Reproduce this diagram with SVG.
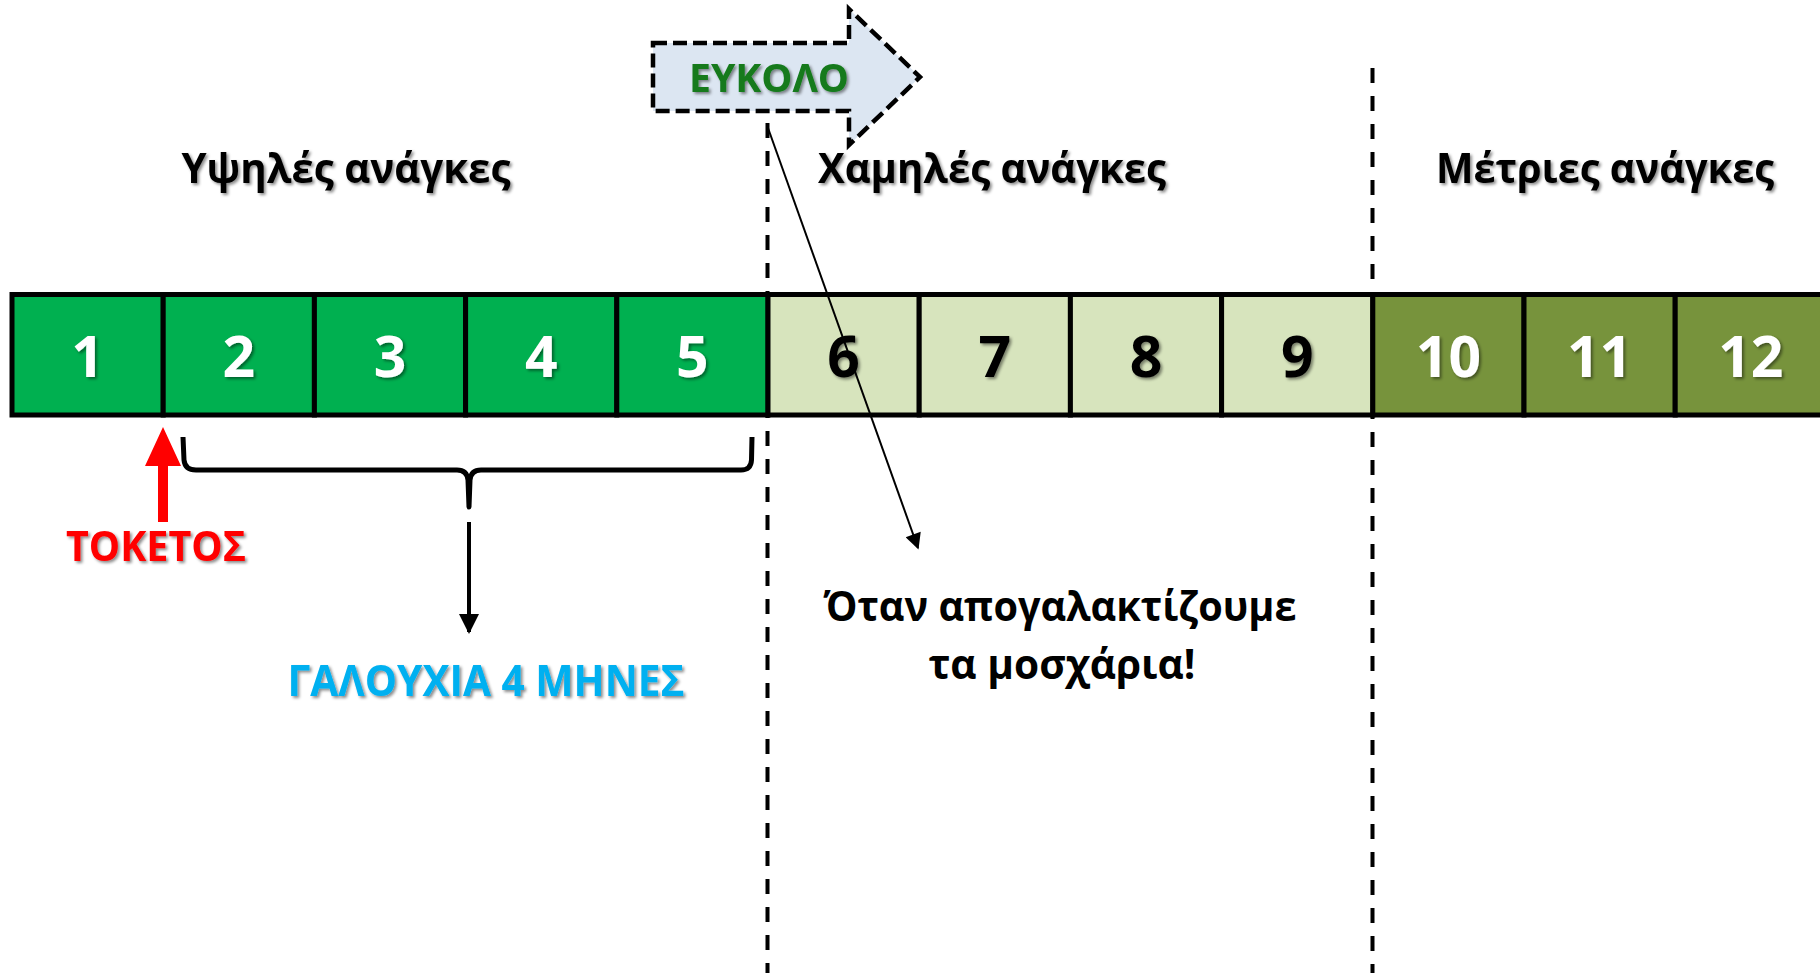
<svg xmlns="http://www.w3.org/2000/svg" width="1820" height="973" viewBox="0 0 1820 973">
<style>
.t{font-family:"Open Sans","Noto Sans","DejaVu Sans",sans-serif;font-weight:bold;}
.num{font-size:57px;text-anchor:middle;}
.hdr{font-size:41px;text-anchor:middle;fill:#000;}
.cellA{fill:#00B050;stroke:#000;stroke-width:5;}
.cellB{fill:#D7E4BD;stroke:#000;stroke-width:5;}
.cellC{fill:#77933C;stroke:#000;stroke-width:5;}
.vdash{stroke:#000;stroke-width:4;stroke-dasharray:15 13;fill:none;}
.sh{filter:url(#shadow);}
</style>
<defs>
<filter id="shadow" x="-10%" y="-20%" width="130%" height="150%">
<feDropShadow dx="2" dy="2" stdDeviation="1.5" flood-color="#000" flood-opacity="0.45"/>
</filter>
<marker id="ah" viewBox="0 0 10 10" refX="9" refY="5" markerWidth="5" markerHeight="5" orient="auto" markerUnits="strokeWidth">
<path d="M0,0 L10,5 L0,10 Z" fill="#000"/>
</marker>
<marker id="ah2" viewBox="0 0 10 10" refX="9" refY="5" markerWidth="9" markerHeight="8" orient="auto" markerUnits="strokeWidth">
<path d="M0,0 L10,5 L0,10 Z" fill="#000"/>
</marker>
</defs>
<rect width="1820" height="973" fill="#fff"/>

<g id="dividers">
<line class="vdash" x1="767.5" y1="123" x2="767.5" y2="973"/>
<line class="vdash" x1="1372.5" y1="68" x2="1372.5" y2="973"/>
</g>

<g id="headers">
<text class="t hdr sh" x="346" y="183" textLength="329" lengthAdjust="spacingAndGlyphs">Υψηλές ανάγκες</text>
<text class="t hdr sh" x="992" y="183" textLength="348" lengthAdjust="spacingAndGlyphs">Χαμηλές ανάγκες</text>
<text class="t hdr sh" x="1605" y="183" textLength="338" lengthAdjust="spacingAndGlyphs">Μέτριες ανάγκες</text>
</g>

<g id="months">
<g id="m1"><rect class="cellA" x="12" y="294.5" width="151.2" height="120.5"/><text class="t num sh" x="87.6" y="377" fill="#fff">1</text></g>
<g id="m2"><rect class="cellA" x="163.2" y="294.5" width="151.2" height="120.5"/><text class="t num sh" x="238.8" y="377" fill="#fff">2</text></g>
<g id="m3"><rect class="cellA" x="314.4" y="294.5" width="151.2" height="120.5"/><text class="t num sh" x="390" y="377" fill="#fff">3</text></g>
<g id="m4"><rect class="cellA" x="465.6" y="294.5" width="151.2" height="120.5"/><text class="t num sh" x="541.2" y="377" fill="#fff">4</text></g>
<g id="m5"><rect class="cellA" x="616.8" y="294.5" width="151.2" height="120.5"/><text class="t num sh" x="692.4" y="377" fill="#fff">5</text></g>
<g id="m6"><rect class="cellB" x="768" y="294.5" width="151.2" height="120.5"/><text class="t num sh" x="843.6" y="377" fill="#000">6</text></g>
<g id="m7"><rect class="cellB" x="919.2" y="294.5" width="151.2" height="120.5"/><text class="t num sh" x="994.8" y="377" fill="#000">7</text></g>
<g id="m8"><rect class="cellB" x="1070.4" y="294.5" width="151.2" height="120.5"/><text class="t num sh" x="1146" y="377" fill="#000">8</text></g>
<g id="m9"><rect class="cellB" x="1221.6" y="294.5" width="151.2" height="120.5"/><text class="t num sh" x="1297.2" y="377" fill="#000">9</text></g>
<g id="m10"><rect class="cellC" x="1372.8" y="294.5" width="151.2" height="120.5"/><text class="t num sh" x="1448.4" y="377" fill="#fff">10</text></g>
<g id="m11"><rect class="cellC" x="1524" y="294.5" width="151.2" height="120.5"/><text class="t num sh" x="1599.6" y="377" fill="#fff">11</text></g>
<g id="m12"><rect class="cellC" x="1675.2" y="294.5" width="151.2" height="120.5"/><text class="t num sh" x="1750.8" y="377" fill="#fff">12</text></g>
</g>

<g id="easy">
<polygon points="653,43 849,43 849,9 920,77 849,145 849,111 653,111" fill="#DCE6F2" stroke="#000" stroke-width="4.5" stroke-dasharray="14 6" stroke-linejoin="miter"/>
<text class="t sh" x="769" y="92" font-size="40" text-anchor="middle" fill="#137A1B" textLength="160" lengthAdjust="spacingAndGlyphs">ΕΥΚΟΛΟ</text>
</g>

<g id="birth">
<polygon points="163,427 181,466 168,466 168,522 158,522 158,466 145,466" fill="#FF0000"/>
<text class="t sh" x="156" y="561" font-size="42" text-anchor="middle" fill="#FF0000" textLength="180" lengthAdjust="spacingAndGlyphs">ΤΟΚΕΤΟΣ</text>
</g>

<g id="lactation">
<path d="M183,437 L184,460 Q185,470 196,470 L457,470 Q467,470 468,480 L469,507 L470,480 Q471,470 481,470 L741,470 Q751,470 751.5,460 L752,437" fill="none" stroke="#000" stroke-width="5" stroke-linejoin="round"/>
<text class="t sh" x="486" y="696" font-size="43" text-anchor="middle" fill="#00B0F0" textLength="397" lengthAdjust="spacingAndGlyphs">ΓΑΛΟΥΧΙΑ 4 ΜΗΝΕΣ</text>
</g>

<g id="weaning">
<text class="t" x="1060" y="621" font-size="42" text-anchor="middle" fill="#000" textLength="473" lengthAdjust="spacingAndGlyphs">Όταν απογαλακτίζουμε</text>
<text class="t" x="1062" y="679" font-size="42" text-anchor="middle" fill="#000" textLength="267" lengthAdjust="spacingAndGlyphs">τα μοσχάρια!</text>
</g>

<g id="connectors">
<line x1="469" y1="522" x2="469" y2="632" stroke="#000" stroke-width="4" marker-end="url(#ah)"/>
<line x1="768" y1="128" x2="918" y2="548" stroke="#000" stroke-width="2" marker-end="url(#ah2)"/>
</g>
</svg>
